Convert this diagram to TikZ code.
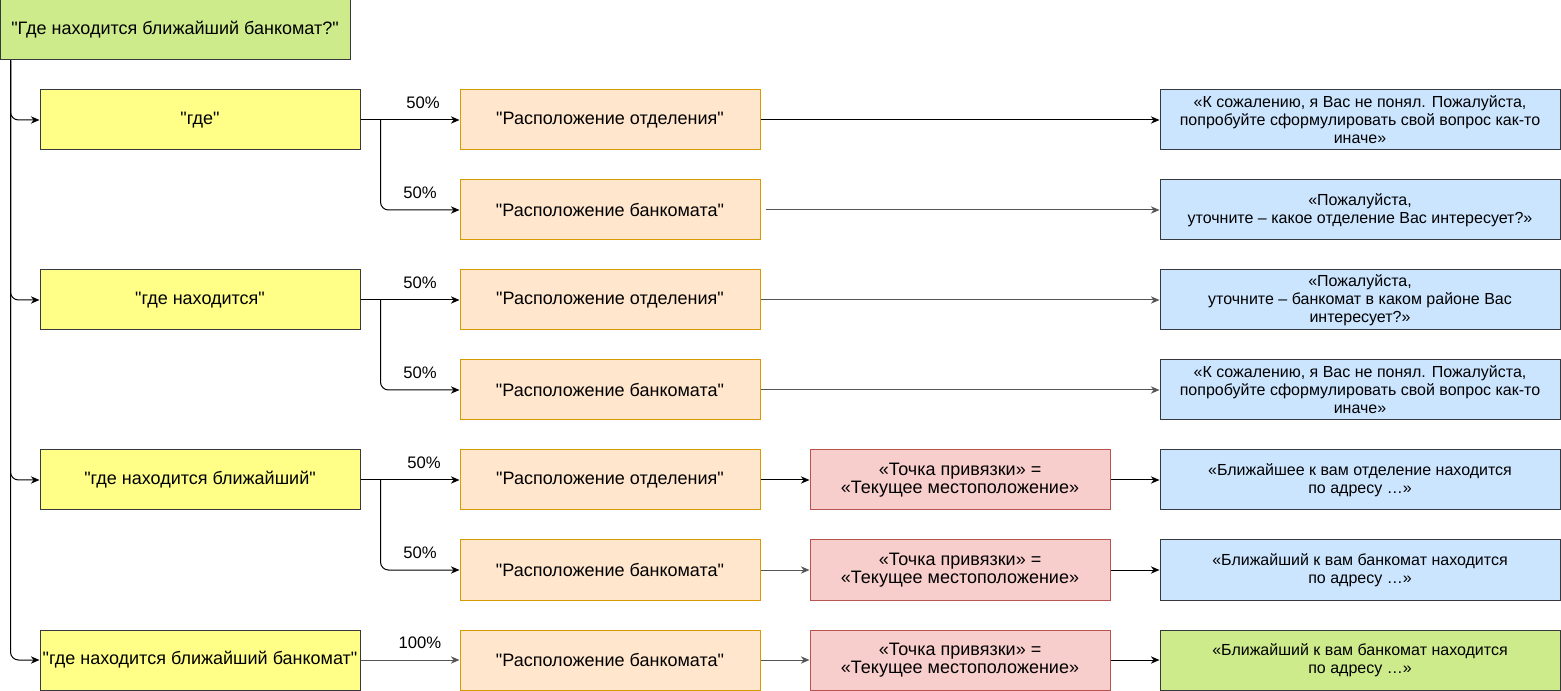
\documentclass[tikz,border=0pt]{standalone}
\usepackage{fontspec}
\setmainfont{Liberation Sans}
\newfontfamily\lib{Liberation Sans}
\usetikzlibrary{arrows.meta}
\definecolor{gfill}{HTML}{CDEB8B}
\definecolor{yfill}{HTML}{FFFF88}
\definecolor{ofill}{HTML}{FFE6CC}
\definecolor{ostroke}{HTML}{D79B00}
\definecolor{rfill}{HTML}{F8CECC}
\definecolor{rstroke}{HTML}{B85450}
\definecolor{bfill}{HTML}{CCE5FF}
\definecolor{dstroke}{HTML}{36393D}
\definecolor{greyline}{HTML}{555555}
\tikzset{
  box/.style={draw, line width=0.75pt, inner sep=0pt, align=center, font=\lib\fontsize{13.5}{15}\selectfont},
  gbox/.style={box, fill=gfill, draw=dstroke, minimum width=262.5pt, minimum height=45pt},
  ybox/.style={box, fill=yfill, draw=dstroke, minimum width=240pt, minimum height=45pt},
  obox/.style={box, fill=ofill, draw=ostroke, minimum width=225pt, minimum height=45pt},
  rbox/.style={box, fill=rfill, draw=rstroke, minimum width=225pt, minimum height=45pt, font=\lib\fontsize{13.5}{9.8}\selectfont},
  bbox/.style={box, fill=bfill, draw=dstroke, minimum width=300pt, minimum height=45pt, font=\lib\fontsize{12}{13.5}\selectfont},
  fbox/.style={box, fill=gfill, draw=dstroke, minimum width=300pt, minimum height=45pt, font=\lib\fontsize{12}{13.5}\selectfont},
  conn/.style={line width=0.75pt, -{Stealth[length=6.5pt,width=5.5pt]}, rounded corners=6pt},
  gconn/.style={conn, draw=greyline},
  pct/.style={font=\lib\fontsize{12.5}{14}\selectfont, inner sep=0pt},
}
\begin{document}
\begin{tikzpicture}[x=0.75pt,y=-0.75pt]
\useasboundingbox (0,0) rectangle (1561,691);
% top
\node[gbox] (top) at (175,30) {"Где находится ближайший банкомат?"};
% yellow
\node[ybox] (y1) at (200,120) {"где"};
\node[ybox] (y2) at (200,300) {"где находится"};
\node[ybox] (y3) at (200,480) {"где находится ближайший"};
\node[ybox] (y4) at (200,660) {"где находится ближайший банкомат"};
% orange
\node[obox] (o1) at (610,120) {"Расположение отделения"};
\node[obox] (o2) at (610,210) {"Расположение банкомата"};
\node[obox] (o3) at (610,300) {"Расположение отделения"};
\node[obox] (o4) at (610,390) {"Расположение банкомата"};
\node[obox] (o5) at (610,480) {"Расположение отделения"};
\node[obox] (o6) at (610,570) {"Расположение банкомата"};
\node[obox] (o7) at (610,660) {"Расположение банкомата"};
% red
\node[rbox] (r5) at (960,480) {«Точка привязки» =\\«Текущее местоположение»};
\node[rbox] (r6) at (960,570) {«Точка привязки» =\\«Текущее местоположение»};
\node[rbox] (r7) at (960,660) {«Точка привязки» =\\«Текущее местоположение»};
% blue
\node[bbox] (b1) at (1360,120) {«К сожалению, я Вас не понял. Пожалуйста,\\попробуйте сформулировать свой вопрос как-то\\иначе»};
\node[bbox] (b2) at (1360,210) {«Пожалуйста,\\уточните – какое отделение Вас интересует?»};
\node[bbox] (b3) at (1360,300) {«Пожалуйста,\\уточните – банкомат в каком районе Вас\\интересует?»};
\node[bbox] (b4) at (1360,390) {«К сожалению, я Вас не понял. Пожалуйста,\\попробуйте сформулировать свой вопрос как-то\\иначе»};
\node[bbox] (b5) at (1360,480) {«Ближайшее к вам отделение находится\\по адресу …»};
\node[bbox] (b6) at (1360,570) {«Ближайший к вам банкомат находится\\по адресу …»};
\node[fbox] (b7) at (1360,660) {«Ближайший к вам банкомат находится\\по адресу …»};
% labels
\node[pct] (p1) at (423,103) {50\%};
\node[pct] (p2) at (420,193) {50\%};
\node[pct] (p3) at (420,283) {50\%};
\node[pct] (p4) at (420,373) {50\%};
\node[pct] (p5) at (424,463) {50\%};
\node[pct] (p6) at (420,553) {50\%};
\node[pct] (p7) at (420,643) {100\%};
% trunk
\coordinate (tr) at ([xshift=8.25pt]top.south west);
\foreach \y in {y1,y2,y3,y4} {
  \draw[conn] (tr) |- (\y.west);
}
% yellow to orange
\draw[conn] (y1.east) -- (o1.west);
\draw[conn] (y1.east) ++(20,0) |- (o2.west);
\draw[conn] (y2.east) -- (o3.west);
\draw[conn] (y2.east) ++(20,0) |- (o4.west);
\draw[conn] (y3.east) -- (o5.west);
\draw[conn] (y3.east) ++(20,0) |- (o6.west);
\draw[gconn] (y4.east) -- (o7.west);
% orange to blue
\draw[conn] (o1.east) -- (b1.west);
\draw[gconn] ([xshift=3.75pt]o2.east) -- (b2.west);
\draw[gconn] (o3.east) -- (b3.west);
\draw[gconn] (o4.east) -- (b4.west);
% orange to red to blue
\draw[conn] (o5.east) -- (r5.west);
\draw[gconn] (o6.east) -- (r6.west);
\draw[gconn] (o7.east) -- (r7.west);
\draw[conn] (r5.east) -- (b5.west);
\draw[conn] (r6.east) -- (b6.west);
\draw[conn] (r7.east) -- (b7.west);
\end{tikzpicture}
\end{document}
